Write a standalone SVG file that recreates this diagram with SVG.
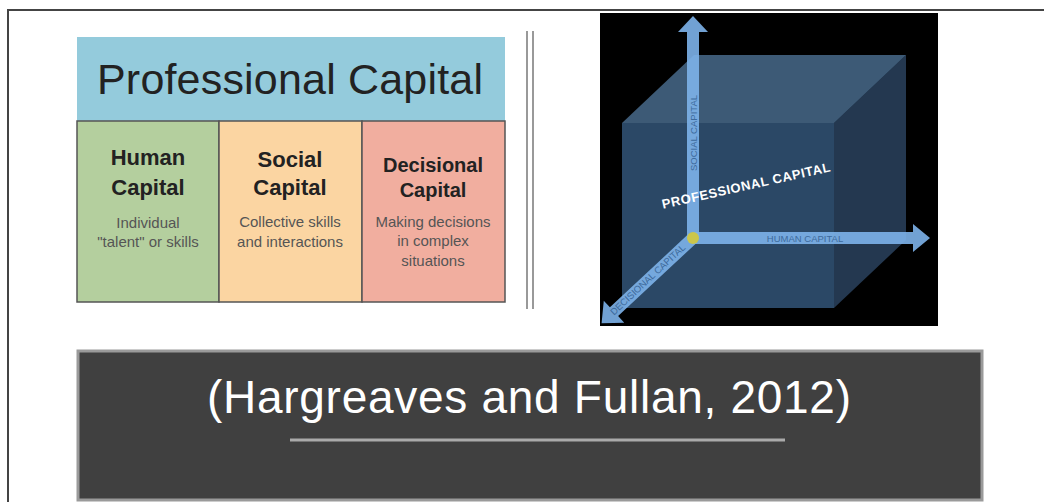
<svg xmlns="http://www.w3.org/2000/svg" width="1044" height="502" viewBox="0 0 1044 502">
<style>
.hd{font-family:"Liberation Sans",Arial,sans-serif;font-weight:bold;fill:#222;text-anchor:middle}
.sb{font-family:"Liberation Sans",Arial,sans-serif;fill:#555;text-anchor:middle;font-size:15px}
.cell{stroke:#555;stroke-width:1.5}
.ax{fill:#7db3ea;opacity:0.9}
.axl{font-family:"Liberation Sans",Arial,sans-serif;font-size:9.5px;fill:#3d6a9c;text-anchor:middle}
</style>
<rect width="1044" height="502" fill="#ffffff"/>
<g id="frame">
<line x1="7" y1="10" x2="1044" y2="10" stroke="#444" stroke-width="2"/>
<line x1="8" y1="10" x2="8" y2="502" stroke="#444" stroke-width="2"/>
</g>
<g id="professional-capital">
<rect x="77" y="37" width="428" height="84" fill="#94cbdc"/>
<text x="290" y="94" font-family="'Liberation Sans',Arial,sans-serif" font-size="43" fill="#222" text-anchor="middle" textLength="386">Professional Capital</text>
</g>
<g id="human-capital">
<rect class="cell" x="77" y="121" width="142" height="181" fill="#b4cf9e"/>
<text class="hd" x="148" y="165" font-size="22">Human</text>
<text class="hd" x="148" y="195" font-size="22">Capital</text>
<text class="sb" x="148" y="228">Individual</text>
<text class="sb" x="148" y="247">"talent" or skills</text>
</g>
<g id="social-capital">
<rect class="cell" x="219" y="121" width="143" height="181" fill="#fbd5a2"/>
<text class="hd" x="290" y="167" font-size="22">Social</text>
<text class="hd" x="290" y="195" font-size="22">Capital</text>
<text class="sb" x="290" y="227">Collective skills</text>
<text class="sb" x="290" y="247">and interactions</text>
</g>
<g id="decisional-capital">
<rect class="cell" x="362" y="121" width="143" height="181" fill="#f1ae9f"/>
<text class="hd" x="433" y="172" font-size="20">Decisional</text>
<text class="hd" x="433" y="197" font-size="20">Capital</text>
<text class="sb" x="433" y="227">Making decisions</text>
<text class="sb" x="433" y="246">in complex</text>
<text class="sb" x="433" y="266">situations</text>
</g>
<g id="divider">
<line x1="527" y1="31" x2="527" y2="309" stroke="#999" stroke-width="2"/>
<line x1="533" y1="31" x2="533" y2="309" stroke="#999" stroke-width="2"/>
</g>
<g id="cube-image">
<rect x="600" y="13" width="338" height="313" fill="#000"/>
<rect x="694" y="55" width="212" height="185" fill="#22384f"/>
<polygon points="622,123 694,55 906,55 834,123" fill="#3d5a76"/>
<polygon points="834,123 906,55 906,240 834,308" fill="#243850"/>
<rect x="622" y="123" width="212" height="185" fill="#2b4866"/>
<g id="connectors">
<polygon class="ax" points="687,238 687,32 678,32 693,16 708,32 699,32 699,238"/>
<polygon class="ax" points="693,232 913,232 913,224 930,238 913,252 913,244 693,244"/>
<polygon class="ax" transform="translate(693,238) rotate(137)" points="0,-6 108,-6 108,-15 125,0 108,15 108,6 0,6"/>
</g>
<circle cx="693" cy="238" r="6" fill="#cbc64b"/>
<text class="axl" transform="translate(696.5,133) rotate(-90)">SOCIAL CAPITAL</text>
<text class="axl" x="805" y="241.5">HUMAN CAPITAL</text>
<text class="axl" transform="translate(650,282) rotate(-43)">DECISIONAL CAPITAL</text>
<text transform="translate(747,190) rotate(-12.6)" font-family="'Liberation Sans',Arial,sans-serif" font-weight="bold" font-size="13" fill="#ffffff" text-anchor="middle" textLength="172">PROFESSIONAL CAPITAL</text>
</g>
<g id="citation">
<rect x="78" y="351" width="904" height="149" fill="#404040" stroke="#9a9a9a" stroke-width="3"/>
<text x="529" y="413" font-family="'Liberation Sans',Arial,sans-serif" font-size="46" fill="#ffffff" text-anchor="middle" textLength="644">(Hargreaves and Fullan, 2012)</text>
<line x1="290" y1="440" x2="785" y2="440" stroke="#aaa" stroke-width="3"/>
</g>
</svg>
